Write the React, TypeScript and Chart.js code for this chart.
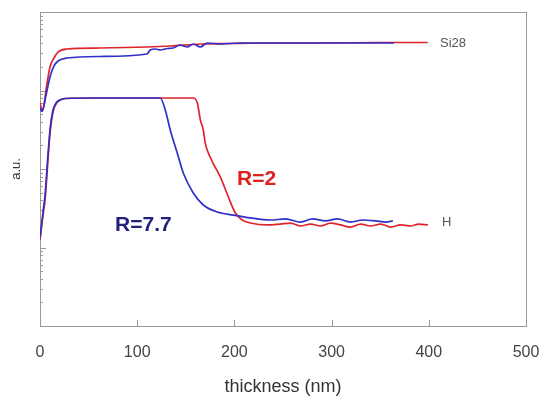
import React, { useEffect, useRef } from "react";
import { Chart, registerables } from "chart.js";

Chart.register(...registerables);

// ---- data (thickness in nm, intensity in a.u., log scale) ----
const si28RedX = [0, 2, 4, 6.2, 10.3, 14.4, 18.5, 27.8, 61.7, 110, 134, 165, 196, 234, 288, 350, 399];
const si28RedY = [700, 560, 640, 1015, 1992, 2594, 3093, 3379, 3477, 3583, 3690, 3912, 3970, 4027, 4027, 4087, 4087];

const si28BlueX = [0, 2.1, 6.2, 10.3, 14.4, 18.5, 27.8, 61.9, 110, 113.4, 118.6, 123.7, 130.9, 137, 144, 151.5, 157.7, 165, 172, 185.6, 206, 268, 364];
const si28BlueY = [600, 540, 877, 1486, 2052, 2376, 2594, 2712, 2917, 3281, 3379, 3281, 3428, 3477, 3800, 3583, 3912, 3583, 4027, 3912, 4027, 4027, 4027];

const hRedX = [0, 3.1, 5.2, 8.2, 10.3, 13.4, 16.5, 20.6, 25.8, 61.9, 113, 157.7, 161.9, 165, 168, 170, 172, 178, 185.6, 193.8, 201, 208, 216.5, 234, 247, 257.7, 268, 278.4, 288.7, 299, 309, 319.6, 330, 340, 350.5, 360.8, 371, 381.4, 389.7, 399];
const hRedY = [12.5, 25.9, 40.3, 130, 287, 532, 673, 757, 791, 802, 802, 802, 693, 421, 314, 214, 175, 119, 79, 44, 27.5, 22.4, 20.5, 19.4, 19.9, 20.5, 18.8, 19.9, 18.8, 20.5, 19.4, 18.2, 19.9, 18.8, 19.9, 18.2, 19.4, 18.8, 19.9, 19.4];

const hBlueX = [0, 3.1, 5.2, 8.2, 10.3, 13.4, 16.5, 20.6, 25.8, 61.9, 123.7, 128.9, 134, 141.2, 147.4, 157.7, 168, 182.5, 199, 216.5, 237, 252.6, 268, 280.4, 293.8, 306, 319.6, 332, 345.4, 355.7, 363];
const hBlueY = [13.2, 28.3, 46.6, 151, 314, 565, 693, 757, 791, 802, 802, 565, 314, 160, 89, 49.5, 34.8, 28.3, 25.9, 23.8, 22.4, 23.1, 21.1, 23.1, 21.8, 23.1, 21.1, 22.4, 21.8, 21.1, 21.8];

const xTicks = [0, 100, 200, 300, 400, 500];

// annotation labels: text, anchor x (nm), anchor y (a.u.)
const labelTexts = ["Si28", "H", "R=2", "R=7.7"];
const labelX = [411.5, 413.6, 202.7, 77.2];
const labelY = [4027, 21.1, 73.5, 19.4];

const FONT = "'Liberation Sans', Arial, sans-serif";
const RED = "#e0242c";
const BLUE = "#3030c8";

const toPoints = (xs: number[], ys: number[]) => xs.map((x, i) => ({ x, y: ys[i] }));

const framePlugin = {
  id: "frame",
  beforeDatasetsDraw(chart: any) {
    const { ctx, chartArea: a, scales } = chart;
    const xs = scales.x;
    const ys = scales.y;
    ctx.save();
    ctx.strokeStyle = "#9a9a9a";
    ctx.lineWidth = 1;
    ctx.beginPath();
    xTicks.forEach((v) => {
      const px = Math.round(xs.getPixelForValue(v)) + 0.5;
      ctx.moveTo(px, a.bottom);
      ctx.lineTo(px, a.bottom - 6);
    });
    for (let k = 0; k < 4; k++) {
      for (let m = 1; m <= 9; m++) {
        const v = m * Math.pow(10, k);
        const py = Math.round(ys.getPixelForValue(v)) + 0.5;
        ctx.moveTo(a.left, py);
        ctx.lineTo(a.left + (m === 1 ? 6 : 3), py);
      }
    }
    ctx.stroke();
    ctx.strokeRect(Math.round(a.left) + 0.5, Math.round(a.top) + 0.5, Math.round(a.right - a.left), Math.round(a.bottom - a.top));
    ctx.restore();
  },
  afterDatasetsDraw(chart: any) {
    const { ctx, scales } = chart;
    const styles = [
      { font: `13px ${FONT}`, color: "#555" },
      { font: `13px ${FONT}`, color: "#555" },
      { font: `bold 21px ${FONT}`, color: "#e02020" },
      { font: `bold 21px ${FONT}`, color: "#22227e" },
    ];
    ctx.save();
    ctx.textAlign = "left";
    ctx.textBaseline = "middle";
    labelTexts.forEach((t, i) => {
      ctx.font = styles[i].font;
      ctx.fillStyle = styles[i].color;
      ctx.fillText(t, scales.x.getPixelForValue(labelX[i]), scales.y.getPixelForValue(labelY[i]));
    });
    ctx.restore();
  },
};

export default function App() {
  const ref = useRef<HTMLCanvasElement | null>(null);
  useEffect(() => {
    if (!ref.current) return;
    const line = (data: any, color: string) => ({
      data,
      borderColor: color,
      backgroundColor: color,
      borderWidth: 1.7,
      pointRadius: 0,
      showLine: true,
      cubicInterpolationMode: "monotone",
    });
    const chart = new Chart(ref.current, {
      type: "scatter",
      data: {
        datasets: [
          line(toPoints(si28BlueX, si28BlueY), BLUE),
          line(toPoints(hBlueX, hBlueY), BLUE),
          line(toPoints(si28RedX, si28RedY), RED),
          line(toPoints(hRedX, hRedY), RED),
        ],
      },
      options: {
        animation: false,
        responsive: false,
        layout: { padding: { top: 12, right: 0, left: 0, bottom: 0 } },
        plugins: { legend: { display: false }, tooltip: { enabled: false } },
        scales: {
          x: {
            type: "linear",
            min: 0,
            max: 500,
            afterFit: (s: any) => { s.height = 74; s.paddingRight = 15; },
            afterBuildTicks: (s: any) => { s.ticks = xTicks.map((v) => ({ value: v })); },
            ticks: { color: "#444", font: { family: FONT, size: 16 }, padding: 17, maxRotation: 0 },
            grid: { display: false, drawTicks: false },
            border: { display: false },
            title: { display: true, text: "thickness (nm)", color: "#333", font: { family: FONT, size: 18 }, padding: { top: 0, bottom: 2 } },
          },
          y: {
            type: "logarithmic",
            min: 1,
            max: 10000,
            afterFit: (s: any) => { s.width = 40; },
            ticks: { display: false },
            grid: { display: false, drawTicks: false },
            border: { display: false },
            title: { display: true, text: "a.u.", color: "#333", font: { family: FONT, size: 13 }, padding: { top: 9, bottom: 0 } },
          },
        },
      },
      plugins: [framePlugin],
    } as any);
    return () => chart.destroy();
  }, []);
  return (
    <div style={{ position: "absolute", left: 0, top: 0, width: 541, height: 400, background: "#fff" }}>
      <canvas ref={ref} width={541} height={400} />
    </div>
  );
}
